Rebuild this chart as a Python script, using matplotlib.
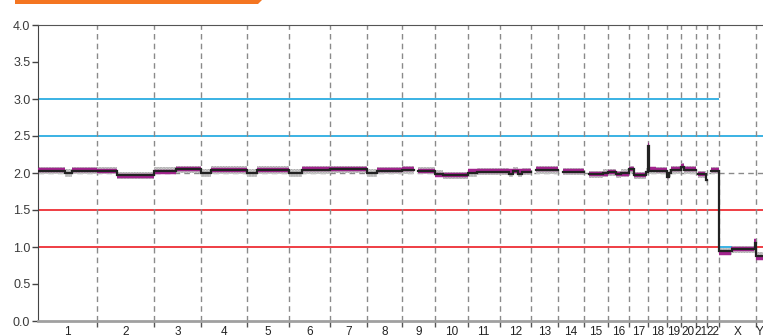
import numpy as np
import matplotlib
matplotlib.use('Agg')
import matplotlib.pyplot as plt
from matplotlib.patches import Polygon

# chromosome layout (Mb)
chrom_names = ['1', '2', '3', '4', '5', '6', '7', '8', '9', '10', '11', '12',
               '13', '14', '15', '16', '17', '18', '19', '20', '21', '22', 'X', 'Y']
chrom_len = [249, 243, 198, 191, 181, 171, 159, 146, 141, 136, 135, 134,
             115, 107, 102, 90, 81, 78, 59, 63, 48, 51, 155, 59]
y_visible_mb = 30

# black step line: chromosome, local start, local end, copy number
step_chrom = ['1', '1', '1', '2', '2', '3', '3', '4', '4', '5', '5', '6', '6', '7',
              '8', '8', '9', '9', '10', '10', '11', '11', '12', '12', '12', '12', '12',
              '13', '14', '15', '15', '16', '16', '16', '17', '17', '17', '18', '18',
              '19', '19', '19', '20', '20', '21', '21', '22', 'X', 'X', 'X', 'Y']
step_start = [0, 114, 143, 0, 84, 0, 89, 0, 42, 0, 46, 0, 55, 0,
              0, 42, 0, 68, 0, 30, 0, 38, 0, 42, 55, 80, 93,
              18, 19, 20, 80, 0, 35, 55, 0, 21, 72, 0, 4,
              0, 8, 16, 0, 14, 10, 44, 16, 0, 55, 150, 0]
step_end = [114, 143, 249, 84, 243, 89, 198, 42, 191, 46, 181, 55, 171, 159,
            42, 146, 50, 141, 30, 136, 38, 135, 42, 55, 80, 93, 134,
            115, 107, 80, 102, 35, 55, 90, 21, 72, 81, 4, 78,
            8, 16, 59, 14, 63, 44, 48, 51, 55, 150, 155, 30]
step_value = [2.03, 2.00, 2.03, 2.03, 1.97, 2.03, 2.05, 2.00, 2.04, 2.00, 2.04, 2.00, 2.04, 2.05,
              2.00, 2.03, 2.04, 2.03, 1.99, 1.97, 2.00, 2.02, 2.02, 1.99, 2.03, 1.99, 2.02,
              2.04, 2.02, 1.98, 2.00, 2.01, 1.98, 2.00, 2.05, 1.97, 2.02, 2.36, 2.03,
              1.94, 2.00, 2.04, 2.08, 2.04, 1.98, 1.91, 2.03, 0.94, 0.97, 1.06, 0.88]

# magenta segments
seg_chrom = ['1', '1', '2', '2', '3', '3', '4', '5', '6', '7', '8', '9', '9', '10',
             '11', '12', '13', '14', '15', '16', '16', '17', '17', '18', '18', '18',
             '19', '19', '20', '20', '21', '22', 'X', 'X', 'X', 'Y']
seg_start = [0, 143, 0, 84, 0, 89, 42, 46, 55, 0, 42, 0, 68, 0,
             0, 0, 18, 19, 20, 0, 35, 0, 21, 0, 4, 30,
             0, 16, 0, 14, 10, 16, 0, 50, 148, 2]
seg_end = [114, 249, 84, 243, 89, 198, 191, 181, 171, 159, 146, 50, 141, 136,
           135, 134, 115, 107, 102, 35, 90, 21, 72, 4, 30, 78,
           10, 59, 14, 63, 40, 51, 50, 148, 155, 30]
seg_value = [2.04, 2.04, 2.03, 1.96, 2.02, 2.06, 2.04, 2.04, 2.05, 2.05, 2.04, 2.05, 2.03, 1.97,
             2.03, 2.03, 2.05, 2.03, 1.99, 2.02, 1.99, 2.06, 1.97, 2.38, 2.06, 2.04,
             1.96, 2.06, 2.10, 2.05, 1.99, 2.04, 0.92, 0.97, 1.08, 0.85]

bin_spread = 0.05
y_ticks = [0.0, 0.5, 1.0, 1.5, 2.0, 2.5, 3.0, 3.5, 4.0]

offsets = dict(zip(chrom_names, np.concatenate([[0], np.cumsum(chrom_len)[:-1]])))
bounds = np.cumsum(chrom_len)
x_max = offsets['Y'] + y_visible_mb
autosome_end = offsets['X']

blue = '#19a6df'
red = '#ec1c24'

fig = plt.figure(figsize=(7.63, 3.35), dpi=100)
ax = fig.add_axes([38 / 763, 14 / 335, 1 - 38 / 763, 296 / 335])

# reference levels
ax.hlines(3.0, 0, autosome_end, color=blue, lw=1.2, zorder=1)
ax.axhline(2.5, color=blue, lw=1.2, zorder=1)
ax.axhline(2.0, color='#8a8a8a', lw=1, ls=(0, (4, 3)), zorder=1)
ax.axhline(1.5, color=red, lw=1.2, zorder=1)
ax.hlines(1.0, 0, autosome_end, color=red, lw=1.2, zorder=1)
ax.hlines(1.0, autosome_end, offsets['Y'], color=blue, lw=1.2, zorder=1)
ax.hlines(1.0, offsets['Y'], x_max, color=red, lw=1.2, zorder=1)

# chromosome boundaries
for b in bounds[:-1]:
    ax.axvline(b, color='#8a8a8a', lw=1, ls=(0, (4, 3)), zorder=1)

# gray bin cloud
plt.rcParams['hatch.linewidth'] = 1.5
for c, s, e, v in zip(step_chrom, step_start, step_end, step_value):
    o = offsets[c]
    ax.fill_between([o + s, o + e], v - bin_spread, v + bin_spread,
                    facecolor='#e2e2e2', edgecolor='#a0a0a0', hatch='......', lw=0, zorder=2)

# magenta segments
for c, s, e, v in zip(seg_chrom, seg_start, seg_end, seg_value):
    o = offsets[c]
    ax.hlines(v, o + s, o + e, color='#a3238e', lw=3.2, zorder=3)

# black step line, joined where segments touch
xs, ys = [], []
prev_end = None
for c, s, e, v in zip(step_chrom, step_start, step_end, step_value):
    o = offsets[c]
    if prev_end is not None and abs(o + s - prev_end) > 1e-6:
        xs.append(np.nan)
        ys.append(np.nan)
    xs += [o + s, o + e]
    ys += [v, v]
    prev_end = o + e
ax.plot(xs, ys, color='#222222', lw=1.6, zorder=4, solid_joinstyle='miter')

ax.set_xlim(0, x_max)
ax.set_ylim(0, 4.0)

ax.set_yticks(y_ticks)
ax.set_yticklabels(['%.1f' % t for t in y_ticks])
ax.tick_params(axis='y', direction='out', length=4.5, width=1, color='#444444',
               labelsize=9, labelcolor='#3a3a3a', pad=1)
for lab in ax.get_yticklabels():
    lab.set_family(['Liberation Sans', 'DejaVu Sans'])

ax.set_xticks(bounds[:-1])
ax.set_xticklabels([])
ax.tick_params(axis='x', which='major', direction='out', length=4, width=1, color='#555555')
centers = [(offsets[n] + min(offsets[n] + l, x_max)) / 2 for n, l in zip(chrom_names, chrom_len)]
ax.set_xticks(centers, minor=True)
ax.set_xticklabels(chrom_names, minor=True)
ax.tick_params(axis='x', which='minor', length=0, pad=3.5, labelsize=8.5, labelcolor='#222222')
for lab in ax.get_xticklabels(minor=True):
    lab.set_family(['Liberation Sans Narrow', 'Liberation Sans', 'DejaVu Sans'])

ax.spines['right'].set_visible(False)
ax.spines['left'].set_color('#444444')
ax.spines['top'].set_color('#555555')
ax.spines['bottom'].set_color('#a0a0a0')
ax.spines['bottom'].set_linewidth(2)
ax.spines['bottom'].set_zorder(5)

# orange header tab cut at the top edge
banner = Polygon([(15 / 763, 1.0), (262 / 763, 1.0), (258 / 763, 1 - 4 / 335), (15 / 763, 1 - 4 / 335)],
                 closed=True, transform=fig.transFigure, facecolor='#f47521', edgecolor='none')
fig.patches.append(banner)

fig.savefig('out.png', dpi=100)
